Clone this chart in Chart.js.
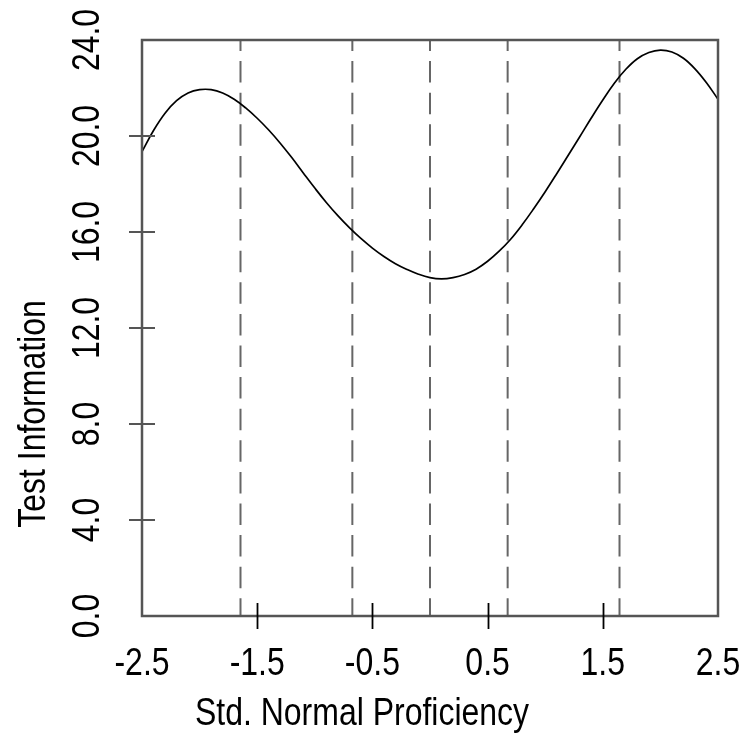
<!DOCTYPE html>
<html>
<head>
<meta charset="utf-8">
<script src="https://cdn.jsdelivr.net/npm/chart.js@4"></script>
<style>
  html, body { margin: 0; padding: 0; background: #fff; }
  #wrap { width: 747px; height: 737px; }
</style>
</head>
<body>
<div id="wrap"><canvas id="grafica" width="747" height="737"></canvas></div>
<script>
// Datos
const theta = [-2.5, -2.4, -2.3, -2.2, -2.1, -2.0, -1.9, -1.8, -1.7, -1.6, -1.5,
               -1.4, -1.3, -1.2, -1.1, -1.0, -0.9, -0.8, -0.7, -0.6, -0.5,
               -0.4, -0.3, -0.2, -0.1, 0.0, 0.1, 0.2, 0.3, 0.4, 0.5,
               0.6, 0.7, 0.8, 0.9, 1.0, 1.1, 1.2, 1.3, 1.4, 1.5,
               1.6, 1.7, 1.8, 1.9, 2.0, 2.1, 2.2, 2.3, 2.4, 2.5];
const testInfo = [19.35, 20.23, 20.95, 21.47, 21.79, 21.93, 21.93, 21.79, 21.53, 21.17, 20.74,
                  20.25, 19.7, 19.1, 18.46, 17.83, 17.23, 16.68, 16.18, 15.73, 15.33,
                  14.98, 14.68, 14.44, 14.24, 14.1, 14.05, 14.1, 14.23, 14.45, 14.78,
                  15.2, 15.7, 16.3, 16.97, 17.68, 18.43, 19.2, 19.97, 20.75, 21.5,
                  22.2, 22.78, 23.22, 23.48, 23.58, 23.5, 23.24, 22.8, 22.22, 21.53];
// Cortes verticales (cuantiles normales)
const cortes = [-1.645, -0.674, 0.0, 0.674, 1.645];
const xTicks = [-2.5, -1.5, -0.5, 0.5, 1.5, 2.5];
const yTicks = [0, 4, 8, 12, 16, 20, 24];
const xTitulo = 'Std. Normal Proficiency';
const yTitulo = 'Test Information';

const FUENTE = '"Liberation Sans", Arial, sans-serif';
const TAM = 39;      // tamaño de letra
const ANCHO = 0.82;  // compresión horizontal (letra estrecha)

// Conjuntos de datos: curva + líneas discontinuas
const datasets = [{
  data: theta.map((t, i) => ({ x: t, y: testInfo[i] })),
  borderColor: '#000',
  borderWidth: 1.7,
  pointRadius: 0,
  tension: 0.4,
  fill: false
}];
cortes.forEach(c => {
  datasets.push({
    data: [{ x: c, y: 24 }, { x: c, y: 0 }],
    borderColor: '#666',
    borderWidth: 2,
    borderDash: [21.5, 10.1],
    borderDashOffset: 10.5,
    pointRadius: 0,
    fill: false
  });
});

// Escribe texto estrecho, opcionalmente girado
function texto(ctx, s, x, y, giro) {
  ctx.save();
  ctx.translate(x, y);
  if (giro) ctx.rotate(-Math.PI / 2);
  ctx.scale(ANCHO, 1);
  ctx.fillText(s, 0, 0);
  ctx.restore();
}

// Marco, marcas de los ejes y textos
const marco = {
  id: 'marco',
  afterDraw(chart) {
    const ctx = chart.ctx;
    const a = chart.chartArea;
    const sx = chart.scales.x, sy = chart.scales.y;
    ctx.save();
    ctx.strokeStyle = '#555';
    ctx.lineWidth = 2.5;
    ctx.strokeRect(a.left, a.top, a.right - a.left, a.bottom - a.top);

    // marcas del eje x (cruzan el eje)
    ctx.strokeStyle = '#000';
    ctx.lineWidth = 1.8;
    xTicks.slice(1, -1).forEach(v => {
      const p = Math.round(sx.getPixelForValue(v)) + 0.5;
      ctx.beginPath();
      ctx.moveTo(p, a.bottom - 13);
      ctx.lineTo(p, a.bottom + 13);
      ctx.stroke();
    });
    // marcas del eje y
    ctx.strokeStyle = '#555';
    ctx.lineWidth = 2;
    yTicks.slice(1, -1).forEach(v => {
      const p = sy.getPixelForValue(v);
      ctx.beginPath();
      ctx.moveTo(a.left - 13, p);
      ctx.lineTo(a.left + 13, p);
      ctx.stroke();
    });

    ctx.fillStyle = '#000';
    ctx.font = TAM + 'px ' + FUENTE;
    ctx.textAlign = 'center';
    ctx.textBaseline = 'middle';
    // etiquetas del eje x
    xTicks.forEach(v => {
      texto(ctx, v.toFixed(1), sx.getPixelForValue(v), a.bottom + 48, false);
    });
    // etiquetas del eje y (giradas)
    yTicks.forEach(v => {
      texto(ctx, v.toFixed(1), 88, sy.getPixelForValue(v), true);
    });
    // títulos
    texto(ctx, yTitulo, 34, 414, true);
    texto(ctx, xTitulo, 362, 714, false);
    ctx.restore();
  }
};

const ctx = document.getElementById('grafica').getContext('2d');
new Chart(ctx, {
  type: 'line',
  data: { datasets: datasets },
  options: {
    responsive: false,
    animation: false,
    events: [],
    layout: { padding: { top: 40, right: 29, left: 0, bottom: 0 } },
    plugins: { legend: { display: false }, tooltip: { enabled: false } },
    scales: {
      x: {
        type: 'linear',
        min: -2.5,
        max: 2.5,
        afterBuildTicks: s => { s.ticks = xTicks.map(v => ({ value: v })); },
        afterFit: s => { s.height = 121; },
        grid: { display: false, drawTicks: false },
        border: { display: false },
        ticks: { display: false }
      },
      y: {
        type: 'linear',
        min: 0,
        max: 24,
        afterBuildTicks: s => { s.ticks = yTicks.map(v => ({ value: v })); },
        afterFit: s => { s.width = 142; },
        grid: { display: false, drawTicks: false },
        border: { display: false },
        ticks: { display: false }
      }
    }
  },
  plugins: [marco]
});
</script>
</body>
</html>
